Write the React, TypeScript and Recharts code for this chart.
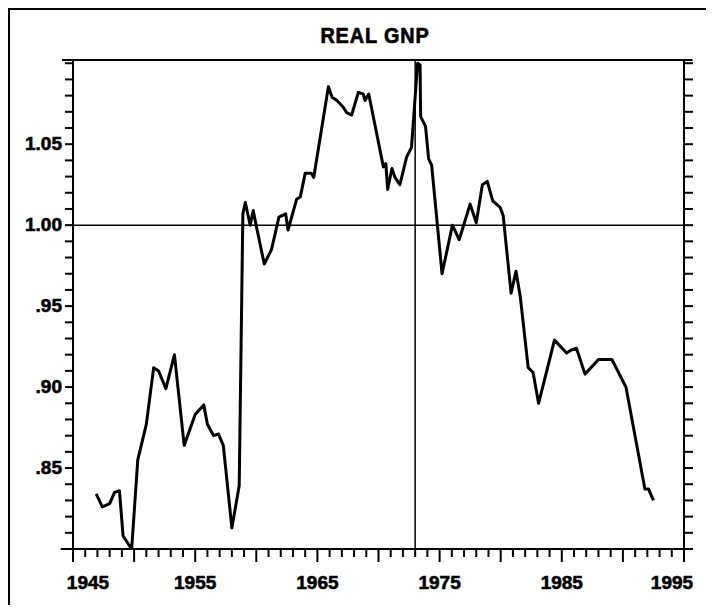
import {
  LineChart,
  Line,
  XAxis,
  YAxis,
  ReferenceLine,
} from 'recharts'

// fractional years
const years = [
  1946.9, 1947.4, 1948.0, 1948.4, 1948.8, 1949.1, 1949.8, 1950.3, 1951.0, 1951.6,
  1952.0, 1952.6, 1953.3, 1954.1, 1955.0, 1955.7, 1956.0, 1956.5, 1956.9, 1957.3,
  1958.0, 1958.6, 1958.9, 1959.1, 1959.5, 1959.75, 1960.0, 1960.65, 1961.25, 1961.85,
  1962.4, 1962.6, 1963.3, 1963.6, 1964.0, 1964.5, 1964.7, 1965.9, 1966.2, 1966.6,
  1967.1, 1967.4, 1967.8, 1968.35, 1968.75, 1968.9, 1969.2, 1970.4, 1970.6, 1970.75,
  1971.1, 1971.35, 1971.75, 1972.3, 1972.7, 1973.2, 1973.4, 1973.45, 1973.85, 1974.1,
  1974.35, 1975.2, 1976.05, 1976.6, 1977.5, 1978.0, 1978.5, 1978.9, 1979.35, 1979.95,
  1980.2, 1980.85, 1981.25, 1981.6, 1982.25, 1982.65, 1983.1, 1984.4, 1985.4, 1985.8,
  1986.2, 1986.9, 1988.0, 1989.1, 1990.25, 1991.8, 1992.1, 1992.5,
]

const gnp = [
  0.834, 0.826, 0.828, 0.835, 0.836, 0.808, 0.8, 0.855, 0.877, 0.912,
  0.91, 0.899, 0.92, 0.864, 0.883, 0.889, 0.877, 0.87, 0.871, 0.864,
  0.813, 0.839, 1.007, 1.014, 1.0, 1.009, 0.9995, 0.976, 0.985, 1.005,
  1.007, 0.997, 1.016, 1.0175, 1.032, 1.032, 1.0295, 1.0855, 1.079, 1.077,
  1.073, 1.0695, 1.068, 1.082, 1.081, 1.077, 1.081, 1.036, 1.038, 1.022,
  1.035, 1.0295, 1.025, 1.042, 1.048, 1.1, 1.099, 1.067, 1.061, 1.041,
  1.037, 0.97, 1.0, 0.991, 1.013, 1.0015, 1.025, 1.027, 1.015, 1.011,
  1.006, 0.958, 0.9715, 0.956, 0.912, 0.909, 0.89, 0.929, 0.921, 0.923,
  0.924, 0.908, 0.917, 0.917, 0.9, 0.837, 0.837, 0.83,
]

const xLabels = [1945, 1955, 1965, 1975, 1985, 1995]
const yLabels: Record<number, string> = {
  105: '1.05',
  100: '1.00',
  95: '.95',
  90: '.90',
  85: '.85',
}

const X_DOMAIN = [1945, 1995]
const Y_DOMAIN = [0.8, 1.102]
const xTicks = Array.from({ length: 51 }, (_, i) => 1945 + i)
const yTicks = Array.from({ length: 31 }, (_, i) => (80 + i) / 100)

const data = years.map((year, i) => ({ year, gnp: gnp[i] }))

const FONT = '"Liberation Sans", Arial, Helvetica, sans-serif'

function XTick({ x, y, payload }: any) {
  const v = payload.value
  const major = v % 5 === 0
  const dx = v === 1945 ? 15 : v === 1995 ? -12 : 0
  return (
    <g>
      {major && <line x1={x} x2={x} y1={y} y2={y + 5} stroke="#000" strokeWidth={2} />}
      {xLabels.includes(v) && (
        <text
          x={x + dx}
          y={y + 32}
          textAnchor="middle"
          fontFamily={FONT}
          fontWeight="bold"
          fontSize={19}
          fill="#000"
          stroke="#000"
          strokeWidth={0.6}
        >
          {v}
        </text>
      )}
    </g>
  )
}

function YTick({ x, y, payload }: any) {
  const label = yLabels[Math.round(payload.value * 100)]
  if (!label) return <g />
  return (
    <text
      x={x}
      y={y + 6}
      textAnchor="end"
      fontFamily={FONT}
      fontWeight="bold"
      fontSize={19}
      fill="#000"
      stroke="#000"
      strokeWidth={0.6}
    >
      {label}
    </text>
  )
}

export default function App() {
  return (
    <div
      style={{
        position: 'relative',
        width: 704,
        height: 595,
        borderLeft: '2px solid #000',
        borderTop: '2px solid #000',
        fontFamily: FONT,
      }}
    >
      <div
        style={{
          position: 'absolute',
          left: 0,
          width: 730,
          top: 13,
          textAlign: 'center',
          fontWeight: 'bold',
          fontSize: 22,
          letterSpacing: 1,
          lineHeight: '26px',
          transform: 'scaleX(0.9)',
          WebkitTextStroke: '0.7px #000',
        }}
      >
        REAL GNP
      </div>
      <LineChart
        width={704}
        height={595}
        data={data}
        margin={{ top: 50, right: 0, bottom: 0, left: 0 }}
      >
        <XAxis
          dataKey="year"
          type="number"
          domain={X_DOMAIN}
          ticks={xTicks}
          interval={0}
          allowDataOverflow
          height={56}
          tickSize={8}
          tickMargin={0}
          axisLine={{ stroke: '#000', strokeWidth: 2 }}
          tickLine={{ stroke: '#000', strokeWidth: 2 }}
          tick={<XTick />}
        />
        <YAxis
          yAxisId="left"
          type="number"
          domain={Y_DOMAIN}
          ticks={yTicks}
          interval={0}
          allowDataOverflow
          width={63}
          tickSize={8}
          tickMargin={3}
          axisLine={{ stroke: '#000', strokeWidth: 2 }}
          tickLine={{ stroke: '#000', strokeWidth: 2 }}
          tick={<YTick />}
        />
        <YAxis
          yAxisId="right"
          orientation="right"
          type="number"
          domain={Y_DOMAIN}
          ticks={yTicks}
          interval={0}
          allowDataOverflow
          width={30}
          tickSize={9}
          axisLine={{ stroke: '#000', strokeWidth: 2 }}
          tickLine={{ stroke: '#000', strokeWidth: 2 }}
          tick={() => <g />}
        />
        <ReferenceLine
          yAxisId="left"
          segment={[
            { x: 1944.1, y: Y_DOMAIN[1] },
            { x: 1995.7, y: Y_DOMAIN[1] },
          ]}
          ifOverflow="visible"
          stroke="#000"
          strokeWidth={2}
        />
        <ReferenceLine
          yAxisId="left"
          segment={[
            { x: 1944.0, y: Y_DOMAIN[0] },
            { x: 1995.7, y: Y_DOMAIN[0] },
          ]}
          ifOverflow="visible"
          stroke="#000"
          strokeWidth={2}
        />
        <ReferenceLine yAxisId="left" y={1} stroke="#000" strokeWidth={1.5} />
        <ReferenceLine yAxisId="left" x={1973} stroke="#000" strokeWidth={1.5} />
        <Line
          yAxisId="left"
          type="linear"
          dataKey="gnp"
          stroke="#000"
          strokeWidth={3}
          strokeLinejoin="round"
          dot={false}
          isAnimationActive={false}
        />
      </LineChart>
    </div>
  )
}
